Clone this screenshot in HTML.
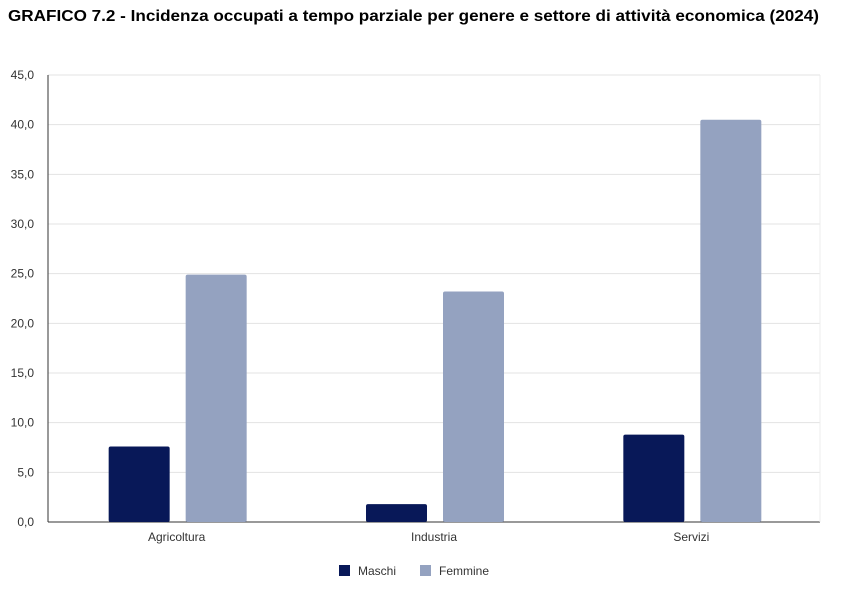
<!DOCTYPE html>
<html><head><meta charset="utf-8"><style>
body{margin:0;background:#fff;width:850px;height:600px;overflow:hidden;font-family:"Liberation Sans","DejaVu Sans",sans-serif}
svg{position:absolute;left:0;top:0}
</style></head><body>
<svg id="chart" width="850" height="600">
<text x="8" y="21" font-size="16" font-weight="bold" fill="#000" textLength="811" lengthAdjust="spacingAndGlyphs" font-family="Liberation Sans, sans-serif">GRAFICO 7.2 - Incidenza occupati a tempo parziale per genere e settore di attività economica (2024)</text>
</svg>
<script>
const categories=["Agricoltura","Industria","Servizi"];
const maschi=[7.6,1.8,8.8];
const femmine=[24.9,23.2,40.5];
const yTicks=[0,5,10,15,20,25,30,35,40,45];
const seriesNames=["Maschi","Femmine"];
const NS="http://www.w3.org/2000/svg";
const svg=document.getElementById('chart');
const X0=48,X1=820,Y0=522,Y1=75,YMAX=45;
const y=v=>Y0-(v/YMAX)*(Y0-Y1);
const band=(X1-X0)/categories.length;
const xc=i=>X0+band*(i+0.5);
function mk(tag,attrs){const e=document.createElementNS(NS,tag);for(const k in attrs)e.setAttribute(k,attrs[k]);svg.appendChild(e);return e;}
yTicks.forEach(t=>{
  const g=mk('line',{x1:X0,x2:X1,y1:y(t),y2:y(t),stroke:t===0?'#333':'#e3e3e3','stroke-width':1});
  
  
  const tx=mk('text',{x:34,y:y(t)+4,'text-anchor':'end','font-size':12,fill:'#333'});
  tx.textContent=t.toFixed(1).replace('.',',');
  
  
});
const rb=mk('line',{x1:X1,x2:X1,y1:Y1,y2:Y0,stroke:'#ececec','stroke-width':1});


const ax=mk('line',{x1:X0,x2:X0,y1:Y1,y2:Y0,stroke:'#333','stroke-width':1});


const colors=["#081858","#94a2c0"];
categories.forEach((c,i)=>{
  [maschi[i],femmine[i]].forEach((v,s)=>{
    const left=s===0?xc(i)-68:xc(i)+9;
    const r=mk('rect',{x:left,y:y(v),width:61,height:Y0-y(v),fill:colors[s],rx:2});
    
    
  });
  const t=mk('text',{x:xc(i),y:541,'text-anchor':'middle','font-size':12,fill:'#333'});
  t.textContent=c;
  
  
});
const lx=[339,420];
seriesNames.forEach((n,s)=>{
  const r=mk('rect',{x:lx[s],y:565,width:11,height:11,fill:colors[s]});
  
  
  const t=mk('text',{x:lx[s]+19,y:575,'font-size':12,fill:'#333'});
  t.textContent=n;
  
  
});
</script>
</body></html>
